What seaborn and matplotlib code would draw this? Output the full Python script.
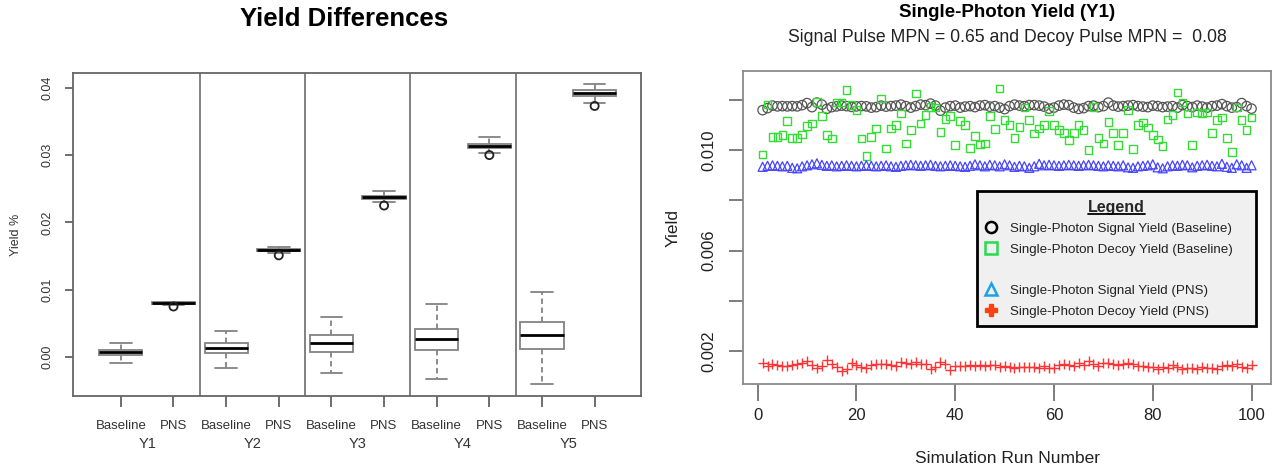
import pandas as pd
import seaborn as sns
import matplotlib.pyplot as plt
from matplotlib.lines import Line2D

groups = ['Y1', 'Y2', 'Y3', 'Y4', 'Y5']
methods = ['Baseline', 'PNS']
box_low    = [-0.0009, 0.0077, -0.0016, 0.0154, -0.0024, 0.0230, -0.0033, 0.0303, -0.0040, 0.0378]
box_q1     = [0.0003, 0.0079, 0.0006, 0.0157, 0.0008, 0.0234, 0.0010, 0.0311, 0.0012, 0.0388]
box_median = [0.0007, 0.0080, 0.0013, 0.0159, 0.0021, 0.0237, 0.0027, 0.0314, 0.0033, 0.0392]
box_q3     = [0.0011, 0.0081, 0.0021, 0.0160, 0.0033, 0.0239, 0.0042, 0.0317, 0.0052, 0.0396]
box_high   = [0.0021, 0.0082, 0.0039, 0.0164, 0.0060, 0.0246, 0.0078, 0.0327, 0.0097, 0.0406]
outlier_box = ['Y1 PNS', 'Y2 PNS', 'Y3 PNS', 'Y4 PNS', 'Y5 PNS']
outlier_val = [0.0075, 0.0151, 0.0225, 0.0300, 0.0373]

# ---- right panel: single-photon yield per simulation run
runs = list(range(1, 101))
sig_base = [0.01160, 0.01168, 0.01178, 0.01175, 0.01176, 0.01175, 0.01176, 0.01175, 0.01180, 0.01188,
            0.01172, 0.01190, 0.01182, 0.01165, 0.01172, 0.01175, 0.01178, 0.01176, 0.01173, 0.01175,
            0.01176, 0.01175, 0.01170, 0.01172, 0.01178, 0.01174, 0.01176, 0.01178, 0.01182, 0.01176,
            0.01170, 0.01176, 0.01182, 0.01180, 0.01186, 0.01178, 0.01158, 0.01170, 0.01176, 0.01178,
            0.01170, 0.01174, 0.01176, 0.01172, 0.01178, 0.01180, 0.01174, 0.01176, 0.01170, 0.01164,
            0.01176, 0.01182, 0.01178, 0.01176, 0.01180, 0.01180, 0.01178, 0.01174, 0.01166, 0.01170,
            0.01178, 0.01182, 0.01180, 0.01170, 0.01165, 0.01168, 0.01176, 0.01178, 0.01172, 0.01176,
            0.01190, 0.01178, 0.01174, 0.01176, 0.01178, 0.01180, 0.01176, 0.01174, 0.01172, 0.01178,
            0.01176, 0.01172, 0.01174, 0.01176, 0.01170, 0.01180, 0.01176, 0.01172, 0.01178, 0.01174,
            0.01170, 0.01176, 0.01178, 0.01184, 0.01176, 0.01170, 0.01172, 0.01188, 0.01176, 0.01166]
dec_base = [0.00983, 0.01183, 0.01053, 0.01052, 0.01060, 0.01116, 0.01050, 0.01050, 0.01063, 0.01097,
            0.01107, 0.01193, 0.01136, 0.01060, 0.01047, 0.01190, 0.01190, 0.01240, 0.01180, 0.01160,
            0.01047, 0.00976, 0.01053, 0.01087, 0.01207, 0.01007, 0.01087, 0.01100, 0.01147, 0.01027,
            0.01080, 0.01227, 0.01107, 0.01140, 0.01173, 0.01170, 0.01073, 0.01124, 0.01137, 0.01020,
            0.01116, 0.01100, 0.01010, 0.01057, 0.01023, 0.01027, 0.01136, 0.01084, 0.01247, 0.01120,
            0.01100, 0.01050, 0.01093, 0.01171, 0.01120, 0.01067, 0.01087, 0.01100, 0.01156, 0.01100,
            0.01080, 0.01070, 0.01040, 0.01070, 0.01100, 0.01080, 0.01000, 0.01173, 0.01050, 0.01027,
            0.01113, 0.01070, 0.01020, 0.01070, 0.01160, 0.01004, 0.01100, 0.01110, 0.01090, 0.01060,
            0.01043, 0.01016, 0.01123, 0.01140, 0.01231, 0.01190, 0.01147, 0.01020, 0.01150, 0.01147,
            0.01150, 0.01070, 0.01120, 0.01130, 0.01050, 0.00993, 0.01170, 0.01120, 0.01080, 0.01130]
sig_pns = [0.00934, 0.00938, 0.00940, 0.00938, 0.00936, 0.00938, 0.00930, 0.00928, 0.00936, 0.00940,
           0.00944, 0.00948, 0.00942, 0.00938, 0.00940, 0.00936, 0.00938, 0.00940, 0.00938, 0.00936,
           0.00938, 0.00940, 0.00938, 0.00936, 0.00938, 0.00940, 0.00936, 0.00934, 0.00938, 0.00940,
           0.00942, 0.00940, 0.00938, 0.00940, 0.00942, 0.00938, 0.00936, 0.00938, 0.00940, 0.00938,
           0.00936, 0.00934, 0.00938, 0.00944, 0.00940, 0.00936, 0.00942, 0.00940, 0.00936, 0.00944,
           0.00940, 0.00934, 0.00938, 0.00936, 0.00930, 0.00936, 0.00946, 0.00940, 0.00942, 0.00940,
           0.00938, 0.00940, 0.00942, 0.00940, 0.00938, 0.00940, 0.00942, 0.00940, 0.00938, 0.00936,
           0.00940, 0.00938, 0.00936, 0.00940, 0.00932, 0.00930, 0.00936, 0.00938, 0.00940, 0.00944,
           0.00932, 0.00928, 0.00936, 0.00940, 0.00938, 0.00942, 0.00940, 0.00932, 0.00938, 0.00940,
           0.00942, 0.00938, 0.00936, 0.00946, 0.00934, 0.00930, 0.00944, 0.00940, 0.00930, 0.00940]
dec_pns = [0.00152, 0.00140, 0.00146, 0.00144, 0.00140, 0.00138, 0.00144, 0.00146, 0.00150, 0.00158,
           0.00142, 0.00130, 0.00138, 0.00164, 0.00148, 0.00136, 0.00118, 0.00128, 0.00150, 0.00144,
           0.00136, 0.00132, 0.00142, 0.00146, 0.00148, 0.00146, 0.00144, 0.00140, 0.00156, 0.00150,
           0.00146, 0.00154, 0.00148, 0.00146, 0.00128, 0.00136, 0.00156, 0.00146, 0.00124, 0.00140,
           0.00138, 0.00140, 0.00142, 0.00140, 0.00144, 0.00138, 0.00142, 0.00144, 0.00136, 0.00138,
           0.00134, 0.00132, 0.00134, 0.00136, 0.00134, 0.00136, 0.00132, 0.00138, 0.00130, 0.00132,
           0.00142, 0.00148, 0.00144, 0.00140, 0.00150, 0.00142, 0.00160, 0.00146, 0.00138, 0.00150,
           0.00152, 0.00146, 0.00144, 0.00148, 0.00152, 0.00146, 0.00138, 0.00140, 0.00134, 0.00134,
           0.00128, 0.00136, 0.00130, 0.00144, 0.00136, 0.00128, 0.00130, 0.00132, 0.00128, 0.00134,
           0.00132, 0.00130, 0.00128, 0.00140, 0.00144, 0.00140, 0.00146, 0.00136, 0.00130, 0.00144]

sns.set_style('white')
plt.rcParams['font.family'] = ['Liberation Sans', 'DejaVu Sans']

fig = plt.figure(figsize=(12.73, 4.69), dpi=100)
ax1 = fig.add_axes([0.0573, 0.1557, 0.4462, 0.6887])
ax2 = fig.add_axes([0.5837, 0.1812, 0.4148, 0.6674])

# ---------------- left: boxplots
box_keys = [f'{g} {m}' for g in groups for m in methods]
rows = []
for i, key in enumerate(box_keys):
    for v in (box_low[i], box_q1[i], box_median[i], box_q3[i], box_high[i]):
        rows.append({'box': key, 'value': v})
box_df = pd.DataFrame(rows)

sns.boxplot(data=box_df, x='box', y='value', order=box_keys, whis=(0, 100),
            width=0.82, color='white', linecolor='#828282', linewidth=1.3,
            showfliers=False,
            medianprops=dict(color='black', linewidth=2.0),
            whiskerprops=dict(linestyle=(0, (3, 2))), ax=ax1)
ax1.scatter([box_keys.index(k) for k in outlier_box], outlier_val, s=34,
            facecolors='none', edgecolors='#222222', linewidths=1.3, zorder=5)

for i in range(1, len(groups)):
    ax1.axvline(2 * i - 0.5, color='#777777', lw=1.3)

ax1.set_xlim(-0.91, 9.88)
ax1.set_ylim(-0.0058, 0.0422)
ax1.set_yticks([0.00, 0.01, 0.02, 0.03, 0.04])
ax1.set_yticklabels(['0.00', '0.01', '0.02', '0.03', '0.04'], rotation=90, va='center')
ax1.set_xticks(range(len(box_keys)))
ax1.set_xticklabels(methods * len(groups))
ax1.tick_params(axis='x', length=8, width=1.2, color='#555555', pad=9,
                labelsize=9.5, labelcolor='#333333', bottom=True)
ax1.tick_params(axis='y', length=6, width=1.2, color='#555555', pad=8,
                labelsize=9, labelcolor='#333333', left=True)
for i, g in enumerate(groups):
    ax1.text(2 * i + 0.5, -0.149, g, transform=ax1.get_xaxis_transform(),
             ha='center', va='center', fontsize=10.5, color='#333333')
ax1.set_xlabel('')
ax1.set_ylabel('Yield %', fontsize=9, color='#333333')
ax1.yaxis.set_label_coords(-0.09, 0.5)
for s in ax1.spines.values():
    s.set_color('#666666')
    s.set_linewidth(1.3)

fig.text(0.270, 0.959, 'Yield Differences', ha='center', va='center',
         fontsize=18.5, fontweight='bold', color='black')

# ---------------- right: scatter per run
sns.scatterplot(x=runs, y=sig_base, marker='o', s=46, facecolor='none',
                edgecolor='#555555', linewidth=0.9, ax=ax2)
sns.scatterplot(x=runs, y=dec_base, marker='s', s=30, facecolor='none',
                edgecolor='#33dd33', linewidth=1.0, ax=ax2)
sns.scatterplot(x=runs, y=sig_pns, marker='^', s=42, facecolor='none',
                edgecolor='#4444ff', linewidth=0.9, ax=ax2)
sns.scatterplot(x=runs, y=dec_pns, marker='+', s=60, color='#ff3333',
                linewidth=1.0, ax=ax2)

ax2.set_xlim(-2.96, 103.96)
ax2.set_ylim(0.00068, 0.01316)
ax2.set_xticks([0, 20, 40, 60, 80, 100])
ax2.set_yticks([0.002, 0.004, 0.006, 0.008, 0.010, 0.012])
ax2.set_yticklabels(['0.002', '', '0.006', '', '0.010', ''], rotation=90, va='center')
ax2.tick_params(axis='x', length=12, width=1.2, color='#666666', pad=5,
                labelsize=12, labelcolor='#222222', bottom=True)
ax2.tick_params(axis='y', length=10, width=1.2, color='#666666', pad=9,
                labelsize=12, labelcolor='#222222', left=True)
ax2.set_xlabel('Simulation Run Number', fontsize=12.5, color='#222222')
ax2.xaxis.set_label_coords(0.5, -0.215)
ax2.set_ylabel('Yield', fontsize=12.5, color='#222222')
ax2.yaxis.set_label_coords(-0.119, 0.5)
for s in ax2.spines.values():
    s.set_color('#8a8a8a')
    s.set_linewidth(1.3)

fig.text(0.791, 0.974, 'Single-Photon Yield (Y1)', ha='center', va='center',
         fontsize=13.5, fontweight='bold', color='black')
fig.text(0.791, 0.921, 'Signal Pulse MPN = 0.65 and Decoy Pulse MPN =  0.08',
         ha='center', va='center', fontsize=12.7, color='#222222')

handles = [
    Line2D([], [], ls='', marker='o', ms=8, mfc='none', mec='black', mew=1.8),
    Line2D([], [], ls='', marker='s', ms=8, mfc='none', mec='#2bd94f', mew=1.8),
    Line2D([], [], ls='', marker=''),
    Line2D([], [], ls='', marker='^', ms=9, mfc='none', mec='#1ea1e8', mew=1.8),
    Line2D([], [], ls='', marker='P', ms=9, mfc='#ff4010', mec='#ff4010'),
]
labels = ['Single-Photon Signal Yield (Baseline)', 'Single-Photon Decoy Yield (Baseline)', '',
          'Single-Photon Signal Yield (PNS)', 'Single-Photon Decoy Yield (PNS)']
leg = ax2.legend(handles, labels, title='Legend', loc='upper left',
                 bbox_to_anchor=(0.443, 0.176, 0.529, 0.441), mode='expand',
                 borderaxespad=0, fontsize=9.6, labelspacing=0.62, handlelength=0.8,
                 handletextpad=1.0, borderpad=0.65, frameon=True, fancybox=False,
                 framealpha=1, facecolor='#f0f0f0', edgecolor='black',
                 title_fontproperties={'weight': 'bold', 'size': 11.5})
leg.get_frame().set_linewidth(2)
leg._legend_box.align = 'center'
for t in leg.get_texts():
    t.set_color('#222222')

# underline the legend title
fig.canvas.draw()
bb = leg.get_title().get_window_extent().transformed(fig.transFigure.inverted())
fig.add_artist(Line2D([bb.x0, bb.x1], [bb.y0 + 0.002, bb.y0 + 0.002],
                      color='black', lw=1.3, transform=fig.transFigure))

fig.savefig('out.png', dpi=100)
